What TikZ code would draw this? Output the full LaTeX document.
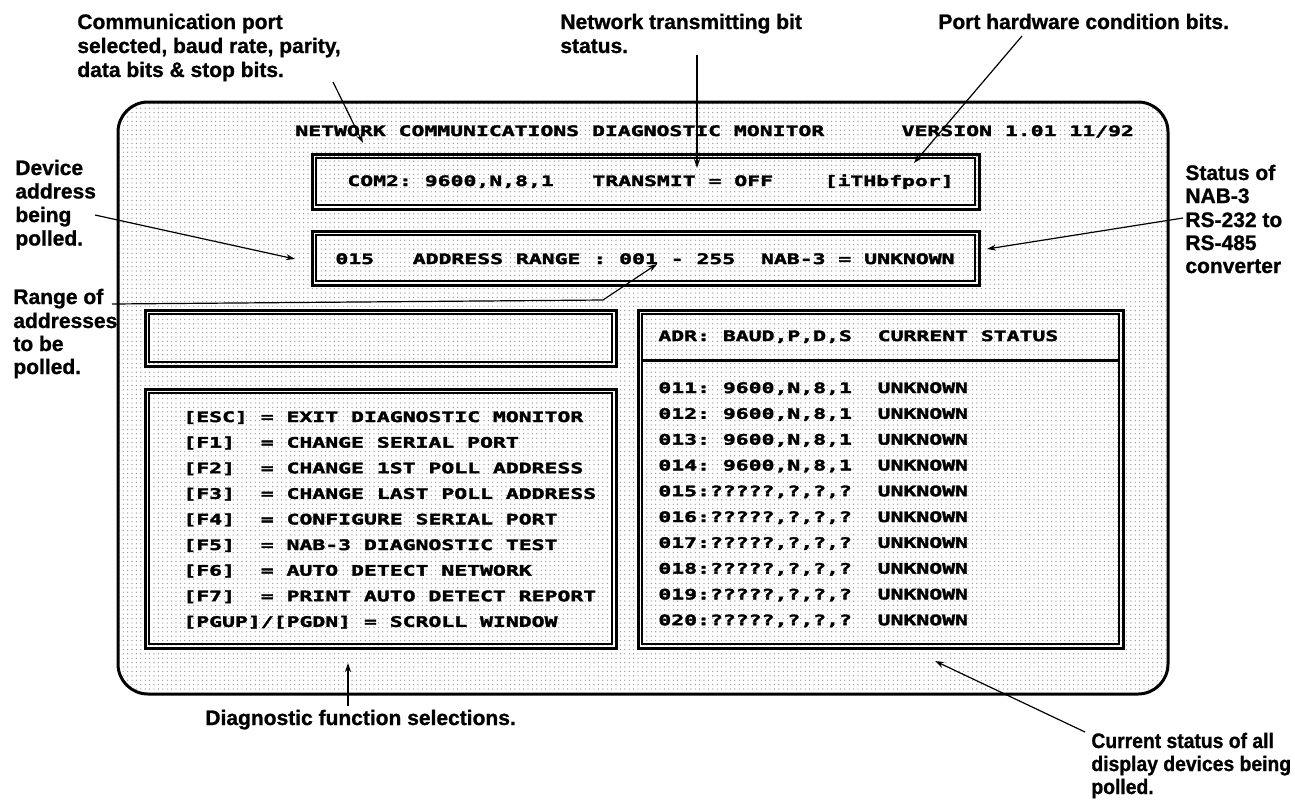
\documentclass[tikz,border=0pt]{standalone}
\usepackage{fontspec}
\setmainfont{Liberation Sans}[BoldFeatures={FakeBold=1.0}]
\newfontfamily\scrfont{DejaVu Sans Mono Bold}[FakeStretch=1.488, FakeBold=2.4]
\newfontfamily\condfont{Liberation Sans Bold}[FakeStretch=0.92, FakeBold=1.0]
\usetikzlibrary{arrows.meta,patterns.meta}
\begin{document}
\begin{tikzpicture}[x=0.5pt,y=-0.5pt,
  lab/.style={font=\bfseries\fontsize{10.5pt}{12pt}\selectfont, inner sep=0pt, anchor=base west},
  clab/.style={font=\condfont\fontsize{10.5pt}{12pt}\selectfont, inner sep=0pt, anchor=base west},
  scr/.style={font=\scrfont\fontsize{7.2pt}{8pt}\selectfont\frenchspacing, inner sep=0pt, anchor=base west},
  arr/.style={line width=0.6pt, -{Stealth[length=4.5pt,width=3pt]}},
  outerbox/.style={line width=1.5pt},
  innerbox/.style={line width=0.6pt},
  screen/.style={line width=1.5pt, rounded corners=15pt}
]
\useasboundingbox (0,0) rectangle (1295,799);
\fill[white] (0,0) rectangle (1295,799);

% screen background
\path[pattern={Dots[radius=0.35pt,distance=2.2pt]}, pattern color=black!40, rounded corners=15pt] (118,102) rectangle (1168,694);
\draw[screen] (118,102) rectangle (1168,694);

% boxes
\draw[outerbox] (312,154) rectangle (979,209);
\draw[innerbox] (316,158) rectangle (975,205);
\draw[outerbox] (312,231) rectangle (979,285);
\draw[innerbox] (316,235) rectangle (975,281);
\draw[outerbox] (145,310) rectangle (616,366);
\draw[innerbox] (149,314) rectangle (612,362);
\draw[outerbox] (145,389) rectangle (616,648);
\draw[innerbox] (149,393) rectangle (612,644);
\draw[outerbox] (638,310) rectangle (1123,648);
\draw[innerbox] (642,314) rectangle (1119,644);
\draw[outerbox] (642,360) -- (1119,360);

% screen texts
\node[scr] (hdr) at (295,136) {NETWORK COMMUNICATIONS DIAGNOSTIC MONITOR~~~~~~VERSION 1.01 11/92};
\node[scr] (com) at (347,186) {COM2: 9600,N,8,1~~~TRANSMIT = OFF~~~~[iTHbfpor]};
\node[scr] (adr) at (335,264) {015~~~ADDRESS RANGE : 001 - 255~~NAB-3 = UNKNOWN};

\node[scr] (f1) at (183,422.0) {[ESC] = EXIT DIAGNOSTIC MONITOR};
\node[scr] (f2) at (183,447.6) {[F1]~~= CHANGE SERIAL PORT};
\node[scr] (f3) at (183,473.2) {[F2]~~= CHANGE 1ST POLL ADDRESS};
\node[scr] (f4) at (183,498.8) {[F3]~~= CHANGE LAST POLL ADDRESS};
\node[scr] (f5) at (183,524.4) {[F4]~~= CONFIGURE SERIAL PORT};
\node[scr] (f6) at (183,550.0) {[F5]~~= NAB-3 DIAGNOSTIC TEST};
\node[scr] (f7) at (183,575.6) {[F6]~~= AUTO DETECT NETWORK};
\node[scr] (f8) at (183,601.2) {[F7]~~= PRINT AUTO DETECT REPORT};
\node[scr] (f9) at (183,626.8) {[PGUP]/[PGDN] = SCROLL WINDOW};

\node[scr] (sh) at (658,341) {ADR: BAUD,P,D,S~~CURRENT STATUS};
\node[scr] (s1) at (658,393.0) {011: 9600,N,8,1~~UNKNOWN};
\node[scr] (s2) at (658,418.8) {012: 9600,N,8,1~~UNKNOWN};
\node[scr] (s3) at (658,444.6) {013: 9600,N,8,1~~UNKNOWN};
\node[scr] (s4) at (658,470.4) {014: 9600,N,8,1~~UNKNOWN};
\node[scr] (s5) at (658,496.2) {015:?????,?,?,?~~UNKNOWN};
\node[scr] (s6) at (658,522.0) {016:?????,?,?,?~~UNKNOWN};
\node[scr] (s7) at (658,547.8) {017:?????,?,?,?~~UNKNOWN};
\node[scr] (s8) at (658,573.6) {018:?????,?,?,?~~UNKNOWN};
\node[scr] (s9) at (658,599.4) {019:?????,?,?,?~~UNKNOWN};
\node[scr] (s10) at (658,625.2) {020:?????,?,?,?~~UNKNOWN};

% labels
\node[lab] (cp1) at (77,29) {Communication port};
\node[lab] (cp2) at (77,53) {selected, baud rate, parity,};
\node[lab] (cp3) at (77,77) {data bits \& stop bits.};
\node[lab] (nt1) at (560,29) {Network transmitting bit};
\node[lab] (nt2) at (560,53) {status.};
\node[lab] (ph1) at (938,29) {Port hardware condition bits.};
\node[lab] (da1) at (15,175) {Device};
\node[lab] (da2) at (15,198.5) {address};
\node[lab] (da3) at (15,222) {being};
\node[lab] (da4) at (15,245.5) {polled.};
\node[lab] (ra1) at (13,304) {Range of};
\node[lab] (ra2) at (13,328) {addresses};
\node[lab] (ra3) at (13,351) {to be};
\node[lab] (ra4) at (13,374) {polled.};
\node[lab] (st1) at (1185,180) {Status of};
\node[lab] (st2) at (1185,203) {NAB-3};
\node[lab] (st3) at (1185,227) {RS-232 to};
\node[lab] (st4) at (1185,250) {RS-485};
\node[lab] (st5) at (1185,273) {converter};
\node[lab] (df1) at (205,725) {Diagnostic function selections.};
\node[clab] (cs1) at (1091,748) {Current status of all};
\node[clab] (cs2) at (1091,771) {display devices being};
\node[clab] (cs3) at (1091,794) {polled.};

% connector end points
\coordinate (cpS) at (333,82);   \coordinate (cpT) at (363,143);
\coordinate (ntS) at (697,55);   \coordinate (ntT) at (697,168);
\coordinate (phS) at (1022,36);  \coordinate (phT) at (914,163);
\coordinate (daS) at (95,215);   \coordinate (daT) at (295,259);
\coordinate (stS) at (1183,218); \coordinate (stT) at (987,249);
\coordinate (raS) at (112,304);  \coordinate (raK) at (603,300); \coordinate (raT) at (657,264);
\coordinate (dfS) at (348,706);  \coordinate (dfT) at (348,663);
\coordinate (csS) at (1085,732); \coordinate (csT) at (935,661);

\draw[arr] (cpS) -- (cpT);
\draw[arr] (ntS) -- (ntT);
\draw[arr] (phS) -- (phT);
\draw[arr] (daS) -- (daT);
\draw[arr] (stS) -- (stT);
\draw[arr] (raS) -- (raK) -- (raT);
\draw[arr] (dfS) -- (dfT);
\draw[arr] (csS) -- (csT);
\end{tikzpicture}
\end{document}
